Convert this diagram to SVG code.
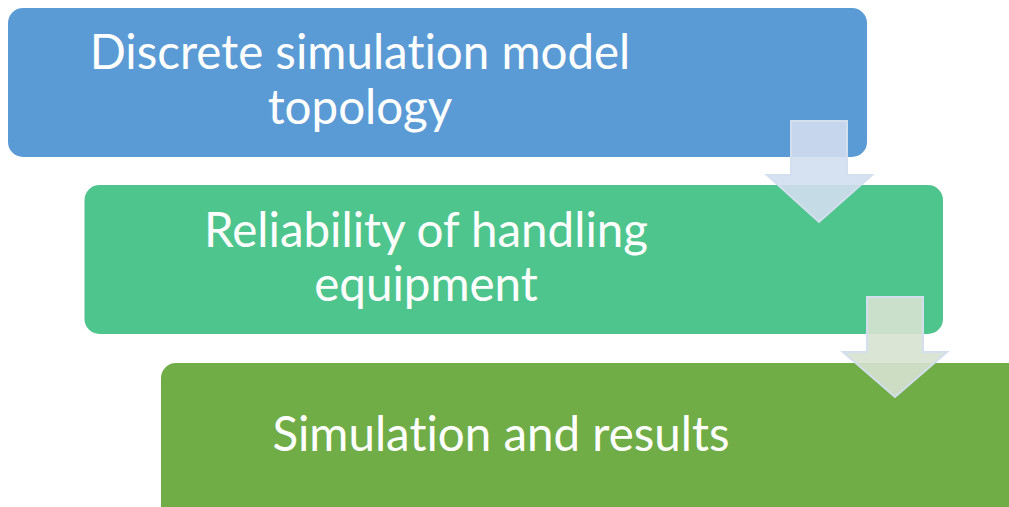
<svg xmlns="http://www.w3.org/2000/svg" width="1009" height="507" viewBox="0 0 1009 507">
<style>
.t{font-family:Lato,"Liberation Sans",sans-serif;font-size:47.5px;fill:#ffffff;text-anchor:middle;font-variant-ligatures:none}
.arrow{stroke-width:2;stroke-linejoin:miter}
</style>
<rect width="1009" height="507" fill="#ffffff"/>
<g id="node1">
<rect x="8" y="8" width="859" height="149" rx="15" fill="#5b9bd5"/>
<text class="t" x="360" y="69">Discrete simulation model</text>
<text class="t" x="360" y="124">topology</text>
</g>
<g id="node2">
<rect x="84.5" y="185" width="858.5" height="149" rx="15" fill="#4fc58e"/>
<text class="t" x="426" y="247">Reliability of handling</text>
<text class="t" x="426" y="301">equipment</text>
</g>
<g id="node3">
<rect x="161" y="363" width="870" height="170" rx="15" fill="#70ad47"/>
<text class="t" x="501" y="451">Simulation and results</text>
</g>
<g id="connectors">
<path class="arrow" d="M791,121 L847,121 L847,175 L872,175 L819,222 L767,175 L791,175 Z" fill="#d2deef" fill-opacity="0.9" stroke="#d3deee"/>
<path class="arrow" d="M867,297 L923,297 L923,352 L947,352 L895,397 L843,352 L867,352 Z" fill="#d7e2d0" fill-opacity="0.9" stroke="#d3deee"/>
</g>
</svg>
